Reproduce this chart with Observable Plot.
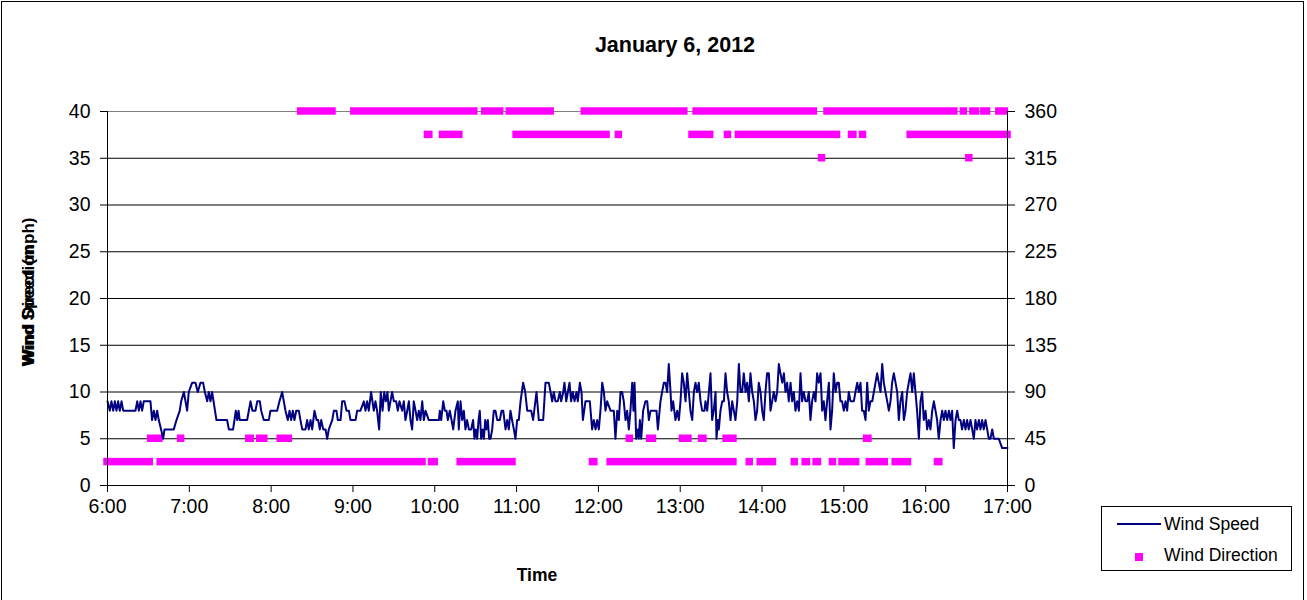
<!DOCTYPE html>
<html><head><meta charset="utf-8">
<script src="https://cdn.jsdelivr.net/npm/d3@7"></script>
<script src="https://cdn.jsdelivr.net/npm/@observablehq/plot@0.6"></script>
<style>
body{margin:0;background:#fff;font-family:"Liberation Sans",Arial,sans-serif;color:#000;}
#frame{position:relative;width:1307px;height:600px;overflow:hidden;background:#fff;}
#border{position:absolute;left:1px;top:1px;width:1301px;height:620px;border:1px solid #000;}
#chart{position:absolute;left:0;top:0;}
#title{position:absolute;left:0;width:1350px;top:32px;text-align:center;font-weight:bold;font-size:21.5px;line-height:26px;}
.ytitle{position:absolute;font-weight:bold;font-size:17px;white-space:nowrap;line-height:18px;transform:translate(-50%,-50%) rotate(-90deg);}
#xtitle{position:absolute;left:537px;top:575px;transform:translate(-50%,-50%);font-weight:bold;font-size:17.5px;}
#legend{position:absolute;left:1101px;top:506px;width:189px;height:63px;border:1px solid #000;background:#fff;}
.lgline{position:absolute;left:15px;top:16px;width:44px;height:2px;background:#000080;}
.lgsq{position:absolute;left:33px;top:46px;width:8px;height:8px;background:#ff00ff;}
.lgtxt{position:absolute;left:62px;font-size:17.5px;line-height:20px;white-space:nowrap;}
</style></head>
<body>
<div id="frame">
  <div id="border"></div>
  <div id="chart"></div>
  <div id="title">January 6, 2012</div>
  <div class="ytitle" style="left:29px;top:292px;">Wind Speed (mph)</div>
  <div class="ytitle" style="left:29px;top:305px;">Wind Direction</div>
  <div id="xtitle">Time</div>
  <div id="legend">
    <div class="lgline"></div><div class="lgtxt" style="top:7px;">Wind Speed</div>
    <div class="lgsq"></div><div class="lgtxt" style="top:38px;">Wind Direction</div>
  </div>
</div>
<script>
// ---- axis tick labels ----
const tickMinutes = [0, 60, 120, 180, 240, 300, 360, 420, 480, 540, 600, 660];
const hourLabels = ["6:00","7:00","8:00","9:00","10:00","11:00","12:00","13:00","14:00","15:00","16:00","17:00"];
const speedTicks = [0, 5, 10, 15, 20, 25, 30, 35, 40];
const dirTicks = [0, 45, 90, 135, 180, 225, 270, 315, 360];

// ---- wind speed (mph): minutes after 6:00 and values ----
const speedMin = [
0,1.7,2.9,4.2,5.4,6.6,7.8,9.0,10.3,11.5,20.5,21.8,23,24.2,25.4,26.6,31.5,32.7,34,35.2,36.4,37.6,39.3,40.8,41.8,48.6,50.6,53,54,56,57.2,58.4,59.6,62.1,64.5,66.2,68.2,70.1,71.4,73.1,74.3,75.5,76.7,79.9,87.7,89,92.1,93.1,94.1,95.1,96.1,97,102.4,
104.9,106.3,108.5,109.8,111.7,112.7,114.6,118.3,119.5,124.4,126.1,128.1,129.3,130.5,132.2,133.5,134.7,135.9,137.1,138.4,140.3,141.5,142.8,145.2,146.4,147.6,148.9,150.1,151.8,153.3,154.5,155.7,156.7,158.2,159.9,161.1,162.3,164.8,166,167.9,168.9,170.9,172.1,173.8,175.3,177,178.2,181.9,183.1,185.5,188,189.2,190.4,191.6,193.3,195.3,196.5,197.7,199.2,200.4,201.7,202.9,204.1,205.3,206.3,207.5,208.7,210,211.7,212.9,214.1,
216.1,217.3,218.5,219.8,221,222.2,223.4,224.6,225.9,227.1,228.3,229.5,230.8,232,233.2,235.6,243,243.7,244.7,246.2,247.4,248.6,249.6,251,252.3,253.5,255.2,256.9,257.6,258.9,260.1,261.3,262.5,263.7,265,266.7,268.1,269.1,270.1,271.1,272.1,273,274,275,276,277,277.9,278.9,279.9,280.9,282.1,283.3,284.5,285.8,287.7,289,290.2,291.9,293.1,294.3,295.5,296.7,298,299.2,300.4,301.6,302.9,304.8,306.3,307.8,310.7,312.1,314.6,316.3,319.5,321.2,323.6,
324.9,326.1,327.3,328.5,330.2,331.7,332.7,334.2,335.1,336.4,337.6,338.8,340,341.2,342.5,343.9,344.9,346.4,347.6,348.6,350.5,353.7,355.4,356.6,357.9,359.1,360.3,361.5,362.8,364,365.2,366.4,368.9,371.3,372.5,373.8,375,376.2,377.4,378.6,379.9,381.1,382.3,383.5,384.8,385.7,386.5,387.7,388.9,389.6,390.4,391.4,392.8,394.5,395.8,397,398.2,402.6,403.6,405.5,406.7,408,409.2,410.4,411.6,412.9,413.6,414.8,416.5,417.8,419,420.2,421.4,422.6,423.9,425.1,426.3,427.5,428.8,430,431.2,432.4,433.6,
434.9,436.1,437.8,438.5,439.8,441,442.2,443.4,444.6,445.9,446.6,447.6,448.3,449.5,450.8,452,453.2,454.4,455.6,456.9,458.1,459.3,460.5,461.8,463,464.2,465.4,466.6,467.9,469.1,470.3,471.5,472.8,474,475.2,476.4,477.6,478.9,480.1,481.3,482.5,483.7,485,486.2,487.4,488.6,489.9,491.1,492.3,493.5,494.8,496,497.2,498.4,499.6,500.9,502.1,503.3,504.5,505.8,507,508.2,509.4,510.6,511.9,513.1,514.3,515.5,516.7,518,519.2,520.4,521.6,522.9,524.1,525.3,526.5,527.7,529,530.2,531.4,532.6,533.9,535.1,536.3,537.5,538.7,540,541.2,542.4,543.6,
544.9,547.3,548.5,549.8,551,552.2,553.4,554.6,555.9,557.1,558.3,559.5,560.8,562,563.2,564.4,565.6,566.9,568.1,569.3,570.5,571.8,573,574.2,575.4,576.6,577.9,579.1,580.3,581.5,582.8,584,585.2,586.4,587.6,588.9,590.1,591.3,592.5,593.7,595,596.2,597.4,598.6,599.9,601.1,602.3,603.5,604.8,606,607.2,608.4,609.6,610.9,612.1,613.3,614.5,615.8,617,618.2,619.4,620.6,621.9,623.1,624.3,625.5,626.7,628,629.2,630.4,631.6,632.9,634.1,635.3,636.5,637.7,639,640.2,641.4,642.6,643.9,645.1,646.3,647.5,648.8,650,652.4,653.6,656.1,660
];
const speedMph = [
9,8,9,8,9,8,9,8,9,8,8,9,8,9,8,9,9,7,8,7,8,7,6,5,6,6,7,8,9,10,9,8,10,11,11,10,11,11,10,9,10,9,10,7,7,6,6,7,8,7,8,7,7,
9,8,8,9,9,8,7,7,8,8,9,10,9,8,7,8,7,8,7,8,8,7,6,6,7,6,7,6,8,7,7,6,7,6,6,5,6,7,8,8,7,7,9,9,8,8,7,7,8,8,9,8,9,8,10,8,9,8,6,10,8,10,9,10,8,9,10,9,9,8,9,
8,9,7,8,9,7,6,9,8,7,8,7,9,7,8,7,7,8,7,9,8,8,7,8,7,6,8,9,6,9,7,8,6,7,6,6,7,5,6,5,7,8,5,6,5,7,6,7,5,5,6,8,8,7,7,8,8,6,7,6,8,7,6,5,7,7,9,11,10,8,8,7,10,7,7,11,11,
10,9,10,9,9,10,9,10,11,9,10,11,9,10,9,10,9,11,10,7,9,9,6,7,6,7,6,8,11,10,8,9,8,8,5,8,7,10,10,9,7,8,6,8,11,8,11,5,6,5,7,5,8,9,9,7,8,8,6,9,10,11,11,10,13,10,8,9,7,8,7,9,12,11,9,12,10,8,7,10,11,10,11,
9,8,8,9,8,10,12,7,8,10,5,7,6,8,9,9,12,10,9,7,9,8,7,9,13,10,10,12,10,11,9,12,10,9,7,8,11,10,8,7,10,12,12,8,9,10,9,10,13,12,11,12,10,11,9,11,9,10,8,9,8,12,9,10,9,9,10,7,9,10,9,12,11,12,8,9,7,9,11,6,8,12,10,11,11,9,9,8,9,8,10,
9,9,10,11,10,11,8,8,7,11,8,9,9,10,11,12,11,10,13,11,10,9,8,9,11,12,11,10,7,9,10,7,8,10,11,12,10,12,10,8,5,9,10,7,8,6,7,6,8,9,8,7,5,7,8,7,8,7,8,7,8,4,7,8,7,7,6,7,6,7,6,7,6,5,7,6,7,6,7,6,7,6,5,5,6,5,5,5,4,4
];

// ---- wind direction (degrees): runs of equal readings, minutes after 6:00 ----
const dirStart = [0,39,238,259,356,369,471,479,504,512,520,532,539,559,578,609,
  32,54,104,112,127,383,398,422,436,454,557,
  524,632,
  235,246,300,375,429,455,463,546,554,589,
  142,181,277,295,350,432,528,628,635,643,654];
const dirEnd = [31,231,240,297,357,459,471,488,504,513,521,532,549,570,587,610,
  38,54,105,115,133,383,400,426,437,459,558,
  524,632,
  236,258,366,375,442,455,535,547,554,660,
  165,269,288,325,423,518,621,628,637,645,658];
const dirValue = [22.5,22.5,22.5,22.5,22.5,22.5,22.5,22.5,22.5,22.5,22.5,22.5,22.5,22.5,22.5,22.5,
  45,45,45,45,45,45,45,45,45,45,45,
  315,315,
  337.5,337.5,337.5,337.5,337.5,337.5,337.5,337.5,337.5,337.5,
  360,360,360,360,360,360,360,360,360,360,360];

const speed = speedMin.map((m, i) => ({m, v: speedMph[i]}));
const dirs = dirStart.map((s, i) => ({s, e: dirEnd[i], d: dirValue[i]}));
const dirToSpeed = 40 / 360; // right axis shares the plot height

const chart = Plot.plot({
  width: 1307, height: 600,
  marginLeft: 107, marginRight: 300, marginTop: 111, marginBottom: 115,
  x: {domain: [0, 660]},
  y: {domain: [0, 40]},
  style: {fontFamily: '"Liberation Sans", Arial, sans-serif', fontSize: "19.5px", color: "#000", background: "transparent", overflow: "visible"},
  marks: [
    Plot.ruleY(speedTicks.filter(t => t > 0 && t < 40), {stroke: "#000", strokeWidth: 1}),
    Plot.ruleY([40], {stroke: "#808080", strokeWidth: 1}),
    Plot.rect(dirs, {x1: "s", x2: "e", y1: d => d.d * dirToSpeed, y2: d => d.d * dirToSpeed,
      insetLeft: -3.75, insetRight: -3.75, insetTop: -3.75, insetBottom: -3.75, fill: "#ff00ff"}),
    Plot.line(speed, {x: "m", y: "v", stroke: "#000080", strokeWidth: 2}),
    Plot.ruleX([0, 660], {stroke: "#000", strokeWidth: 1}),
    Plot.ruleY([0], {stroke: "#000", strokeWidth: 1}),
    Plot.axisX({ticks: tickMinutes, tickFormat: d => hourLabels[tickMinutes.indexOf(d)], tickSize: 7, tickPadding: 7, label: null, fontSize: 19.5}),
    Plot.axisY({anchor: "left", ticks: speedTicks, tickFormat: d => String(d), tickSize: 7, tickPadding: 10, label: null, fontSize: 19.5}),
    Plot.axisY({anchor: "right", ticks: speedTicks, tickFormat: d => String(dirTicks[speedTicks.indexOf(d)]), tickSize: 7, tickPadding: 10, label: null, fontSize: 19.5})
  ]
});
document.getElementById("chart").appendChild(chart);
</script>
</body></html>
